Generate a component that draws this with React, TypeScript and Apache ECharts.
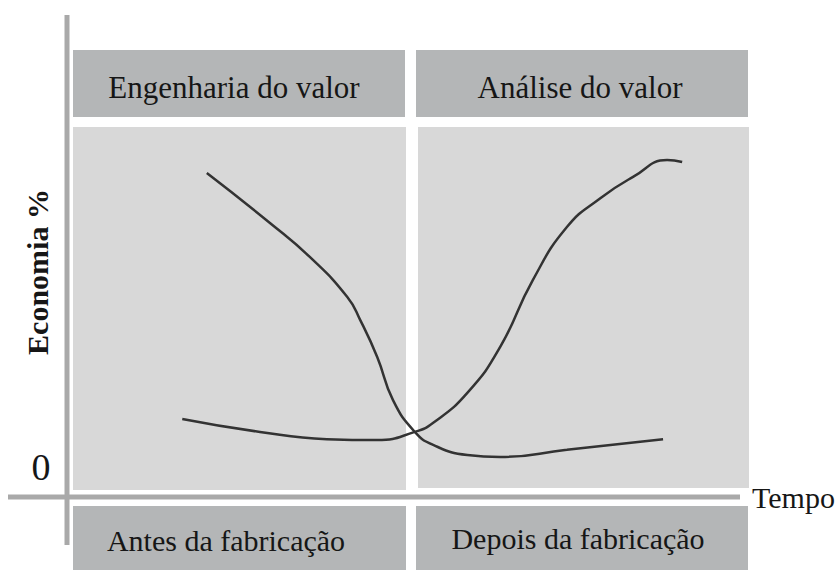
import React, { useEffect, useRef } from "react";
import * as echarts from "echarts";

// Curve values: x = Tempo (0..100), y = Economia % (0..100)
const engenhariaX = [20.5, 29.8, 35.6, 41.1, 43.0, 45.5, 47.8, 51.0, 53.7, 58.7, 63.5, 73.3, 87.4];
const engenhariaY = [67.2, 56.8, 49.8, 41.5, 36.7, 29.0, 20.1, 13.5, 10.8, 8.7, 8.3, 9.8, 12.0];
const analiseX = [16.9, 28.3, 38.1, 45.5, 51.0, 53.7, 58.7, 63.5, 68.3, 73.3, 78.2, 83.0, 88.0, 90.2];
const analiseY = [16.2, 13.5, 12.0, 11.8, 13.5, 15.4, 21.6, 31.1, 45.0, 56.0, 62.0, 66.4, 69.9, 69.5];

const topLabels = ["Engenharia do valor", "Análise do valor"];
const bottomLabels = ["Antes da fabricação", "Depois da fabricação"];
const xAxisName = "Tempo";
const yAxisName = "Economia %";
const zeroLabel = "0";

const SERIF = "'Liberation Serif', 'DejaVu Serif', serif";
const INK = "#161616";

export default function App() {
  const ref = useRef<HTMLDivElement>(null);
  useEffect(() => {
    document.body.style.margin = "0";
    if (!ref.current) return;
    const chart = echarts.init(ref.current, null, { renderer: "svg" });
    const pair = (xs: number[], ys: number[]) => xs.map((x, i) => [x, ys[i]]);
    const headerFill = "#b4b6b7";
    const panelFill = "#d8d8d8";
    const axisGray = "#a9a9a9";
    chart.setOption({
      animation: false,
      backgroundColor: "#ffffff",
      grid: { left: 67, right: 91, top: 15, bottom: 73 },
      xAxis: {
        type: "value",
        min: 0,
        max: 100,
        name: xAxisName,
        nameLocation: "end",
        nameGap: 3,
        nameTextStyle: { fontFamily: SERIF, fontSize: 30, color: INK, align: "left", verticalAlign: "middle" },
        axisLine: { show: false },
        axisTick: { show: false },
        axisLabel: { show: false },
        splitLine: { show: false },
      },
      yAxis: {
        type: "value",
        min: 0,
        max: 100,
        axisLine: { show: false },
        axisTick: { show: false },
        axisLabel: { show: false },
        splitLine: { show: false },
      },
      graphic: [
        // header boxes
        { type: "rect", z: 0, shape: { x: 73, y: 50, width: 332, height: 67 }, style: { fill: headerFill } },
        { type: "rect", z: 0, shape: { x: 416, y: 50, width: 332, height: 67 }, style: { fill: headerFill } },
        // main panels
        { type: "rect", z: 0, shape: { x: 73, y: 127, width: 333, height: 363 }, style: { fill: panelFill } },
        { type: "rect", z: 0, shape: { x: 418, y: 127, width: 331, height: 361 }, style: { fill: panelFill } },
        // bottom boxes
        { type: "rect", z: 0, shape: { x: 73, y: 506, width: 333, height: 64 }, style: { fill: headerFill } },
        { type: "rect", z: 0, shape: { x: 416, y: 506, width: 332, height: 64 }, style: { fill: headerFill } },
        // axes
        { type: "line", z: 1, shape: { x1: 67, y1: 15, x2: 67, y2: 545 }, style: { stroke: axisGray, lineWidth: 5 } },
        { type: "line", z: 1, shape: { x1: 8, y1: 497, x2: 740, y2: 497 }, style: { stroke: axisGray, lineWidth: 5 } },
        // texts
        { type: "text", z: 10, x: 234, y: 87, style: { text: topLabels[0], font: `31px ${SERIF}`, fill: INK, align: "center", verticalAlign: "middle" } },
        { type: "text", z: 10, x: 580, y: 87, style: { text: topLabels[1], font: `31px ${SERIF}`, fill: INK, align: "center", verticalAlign: "middle" } },
        { type: "text", z: 10, x: 226, y: 540, style: { text: bottomLabels[0], font: `30px ${SERIF}`, fill: INK, align: "center", verticalAlign: "middle" } },
        { type: "text", z: 10, x: 578, y: 538, style: { text: bottomLabels[1], font: `30px ${SERIF}`, fill: INK, align: "center", verticalAlign: "middle" } },
        { type: "text", z: 10, x: 37, y: 272, rotation: Math.PI / 2, style: { text: yAxisName, font: `bold 30px ${SERIF}`, fill: INK, align: "center", verticalAlign: "middle" } },
        { type: "text", z: 10, x: 41, y: 467, style: { text: zeroLabel, font: `38px ${SERIF}`, fill: INK, align: "center", verticalAlign: "middle" } },
      ],
      series: [
        {
          type: "line",
          name: topLabels[0],
          data: pair(engenhariaX, engenhariaY),
          smooth: 0.5,
          showSymbol: false,
          z: 5,
          lineStyle: { color: "#333333", width: 2.5 },
        },
        {
          type: "line",
          name: topLabels[1],
          data: pair(analiseX, analiseY),
          smooth: 0.5,
          showSymbol: false,
          z: 5,
          lineStyle: { color: "#333333", width: 2.5 },
        },
      ],
    });
    return () => chart.dispose();
  }, []);
  return <div ref={ref} style={{ width: 840, height: 570 }} />;
}
